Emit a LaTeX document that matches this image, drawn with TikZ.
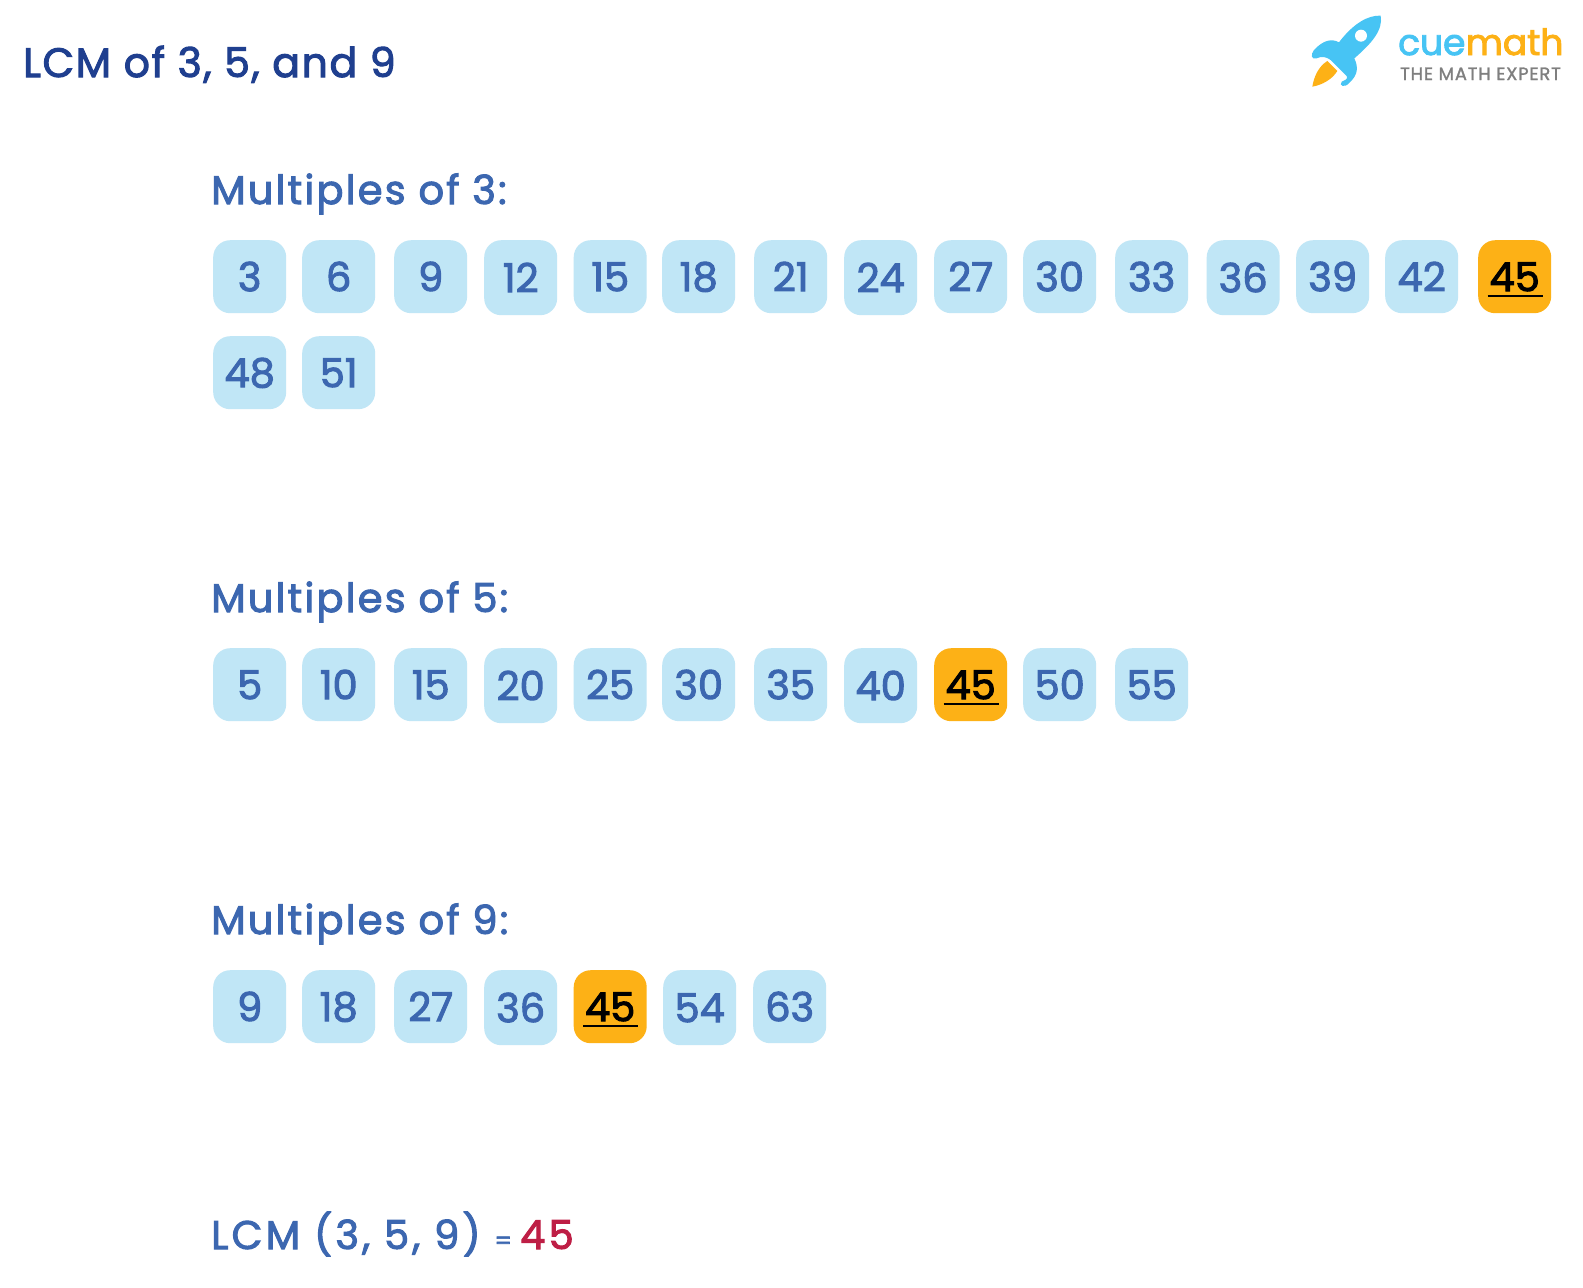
\documentclass[tikz,border=0pt]{standalone}
\usepackage{fontspec}
\setmainfont{Poppins}[FakeBold=2.5]
\newfontfamily\plainf{Poppins}[FakeBold=1.5,LetterSpace=5]
\tikzset{
  numbox/.style={anchor=north west,fill=boxblue,rounded corners=17pt,inner sep=0pt,
    minimum width=73pt,minimum height=#1,text=txtblue,text height=29pt,text depth=0pt,
    font=\fontsize{40}{40}\selectfont},
  numbox/.default=73pt,
  hitbox/.style={numbox,fill=hitorange,text=black},
  hitline/.style={line width=2.2pt,black},
  heading/.style={anchor=base west,inner sep=0pt,text=txtblue,font=\fontsize{40}{40}\selectfont\addfontfeatures{LetterSpace=5.5}},
  resulttext/.style={heading,font=\fontsize{40}{40}\selectfont\addfontfeatures{LetterSpace=8}},
  titletext/.style={anchor=base west,inner sep=0pt,text=titleblue,font=\fontsize{41}{41}\selectfont\addfontfeatures{LetterSpace=4}},
  logotext/.style={anchor=base west,inner sep=0pt},
}
\definecolor{boxblue}{HTML}{C0E6F6}
\definecolor{txtblue}{HTML}{3C67B0}
\definecolor{titleblue}{HTML}{1F3F8F}
\definecolor{hitorange}{HTML}{FDB116}
\definecolor{resred}{HTML}{BE1E45}
\definecolor{logoblue}{HTML}{47C4F4}
\definecolor{logogray}{HTML}{7F7F7F}
\begin{document}
\begin{tikzpicture}[x=1pt,y=-1pt]
\useasboundingbox (0,0) rectangle (1583,1288);
\fill[white] (0,0) rectangle (1583,1288);
\node[titletext] (title) at (23,77) {LCM of 3, 5, and 9};
% logo
\begin{scope}[shift={(1290,0)},x=0.3333pt,y=-0.3333pt]
\fill[logoblue] (272,47) .. controls (235,45) and (190,70) .. (147,127)
  .. controls (125,115) and (100,120) .. (72,150)
  .. controls (60,165) and (65,180) .. (80,175)
  .. controls (95,168) and (108,170) .. (122,180)
  -- (170,228)
  .. controls (175,238) and (165,240) .. (155,245)
  .. controls (145,258) and (165,265) .. (178,248)
  .. controls (205,225) and (205,200) .. (193,175)
  .. controls (245,130) and (280,90) .. (272,47) -- cycle;
\fill[white] (213,107) circle[radius=18];
\fill[hitorange] (112,183) .. controls (85,200) and (72,230) .. (67,260)
  .. controls (95,255) and (125,240) .. (142,213) -- cycle;
\end{scope}
\node[logotext,text=logoblue,font=\fontsize{36}{36}\selectfont] (cue) at (1398,55) {cue};
\node[logotext,text=hitorange,font=\fontsize{36}{36}\selectfont,anchor=base west] (math) at (cue.base east) {math};
\node[logotext,text=logogray,font=\fontsize{17.8}{17.8}\plainf\selectfont] (slogan) at (1400,80) {THE MATH EXPERT};
% multiples of 3
\node[heading] (h3) at (211,204) {Multiples of 3:};
\foreach \nm/\x/\h in {3/213/73,6/302/73,9/394/73,12/484/75,15/573.5/73,18/662/73,21/754/73,24/844/75,27/934/73,30/1023/73,33/1115/73,36/1206.5/75,39/1296/73,42/1385/73}
  \node[numbox=\h pt] (a\nm) at (\x,240) {\nm};
\node[hitbox=73pt] (a45) at (1478,240) {45};
\draw[hitline] ([xshift=-27pt,yshift=-19pt]a45.center) -- ([xshift=28pt,yshift=-19pt]a45.center);
\node[numbox=73pt] (a48) at (213,336) {48};
\node[numbox=73pt] (a51) at (302,336) {51};
% multiples of 5
\node[heading] (h5) at (211,612) {Multiples of 5:};
\foreach \nm/\x/\h in {5/213/73,10/302/73,15/394/73,20/484/75,25/573.5/73,30/662/73,35/754/73,40/844/75,50/1023/73,55/1115/73}
  \node[numbox=\h pt] (b\nm) at (\x,648) {\nm};
\node[hitbox=73pt] (b45) at (934,648) {45};
\draw[hitline] ([xshift=-27pt,yshift=-19pt]b45.center) -- ([xshift=28pt,yshift=-19pt]b45.center);
% multiples of 9
\node[heading] (h9) at (211,934) {Multiples of 9:};
\foreach \nm/\x/\h in {9/213/73,18/302/73,27/394/73,36/484/75,54/663/75,63/753/73}
  \node[numbox=\h pt] (c\nm) at (\x,970) {\nm};
\node[hitbox=75pt] (c45) at (573.5,970) {45};
\draw[hitline] ([xshift=-27pt,yshift=-19pt]c45.center) -- ([xshift=28pt,yshift=-19pt]c45.center);
% result
\node[resulttext] (lcm) at (211,1249) {LCM (3, 5, 9) \fontsize{24}{24}\selectfont= \fontsize{40}{40}\selectfont\textcolor{resred}{45}};
\end{tikzpicture}
\end{document}
